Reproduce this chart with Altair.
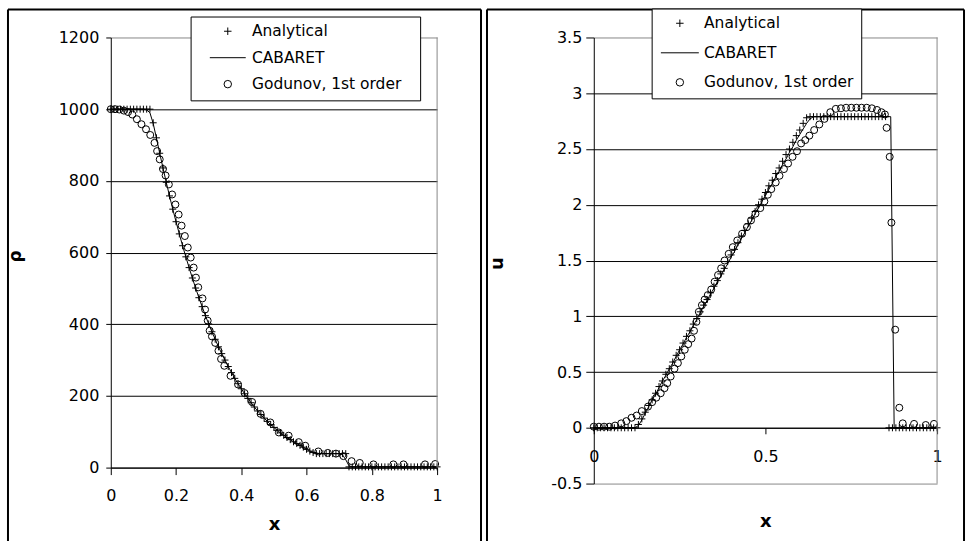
import altair as alt
import pandas as pd

# ---------------- shared sampling grid of the analytical / CABARET data ----------------
X_GRID = [0.00, 0.01, 0.02, 0.03, 0.04, 0.05, 0.06, 0.07, 0.08, 0.09,
          0.10, 0.11, 0.12, 0.13, 0.14, 0.15, 0.16, 0.17, 0.18, 0.19,
          0.20, 0.21, 0.22, 0.23, 0.24, 0.25, 0.26, 0.27, 0.28, 0.29,
          0.30, 0.31, 0.32, 0.33, 0.34, 0.35, 0.36, 0.37, 0.38, 0.39,
          0.40, 0.41, 0.42, 0.43, 0.44, 0.45, 0.46, 0.47, 0.48, 0.49,
          0.50, 0.51, 0.52, 0.53, 0.54, 0.55, 0.56, 0.57, 0.58, 0.59,
          0.60, 0.61, 0.62, 0.63, 0.64, 0.65, 0.66, 0.67, 0.68, 0.69,
          0.70, 0.71, 0.72, 0.73, 0.74, 0.75, 0.76, 0.77, 0.78, 0.79,
          0.80, 0.81, 0.82, 0.83, 0.84, 0.85, 0.86, 0.87, 0.88, 0.89,
          0.90, 0.91, 0.92, 0.93, 0.94, 0.95, 0.96, 0.97, 0.98, 0.99,
          1.00]

# ---------------- left panel: density rho ----------------
RHO_ANALYTICAL = [1000, 1000, 1000, 1000, 1000, 1000, 1000, 1000, 1000, 1000,
                  1000, 1000, 1000, 962, 920, 877, 836, 796, 758, 721,
                  686, 652, 619, 588, 558, 529, 501, 474, 449, 424,
                  401, 379, 358, 337, 318, 300, 282, 265, 249, 234,
                  220, 206, 193, 181, 169, 158, 148, 138, 129, 120,
                  112, 104, 97, 90, 84, 78, 72, 67, 62, 57,
                  51, 46, 42, 39, 39, 39, 39, 39, 39, 39,
                  39, 39, 39, 2, 2, 2, 2, 2, 2, 2,
                  2, 2, 2, 2, 2, 2, 2, 2, 2, 2,
                  2, 2, 2, 2, 2, 2, 2, 2, 2, 2,
                  2]
RHO_CABARET = [1000, 1000, 1000, 1000, 1000, 1000, 1000, 1000, 1000, 1000,
               1000, 998, 990, 960, 919, 877, 836, 796, 758, 721,
               686, 652, 619, 588, 558, 529, 501, 474, 449, 424,
               401, 379, 358, 337, 318, 300, 282, 265, 249, 234,
               220, 206, 193, 181, 169, 158, 148, 138, 129, 120,
               112, 104, 97, 90, 84, 78, 72, 67, 62, 57,
               51, 46, 43, 41, 39, 39, 39, 39, 39, 39,
               39, 36, 22, 5, 2, 2, 2, 2, 2, 2,
               2, 2, 2, 2, 2, 2, 2, 2, 2, 2,
               2, 2, 2, 2, 2, 2, 2, 2, 2, 2,
               2]
GOD_RHO_X = [0.000, 0.013, 0.026, 0.040, 0.053, 0.066, 0.080, 0.094, 0.108, 0.121,
             0.134, 0.142, 0.150, 0.160, 0.168, 0.178, 0.188, 0.198, 0.208, 0.217,
             0.227, 0.236, 0.245, 0.254, 0.261, 0.268, 0.281, 0.289, 0.297, 0.303,
             0.310, 0.320, 0.330, 0.338, 0.348, 0.367, 0.390, 0.410, 0.433, 0.459,
             0.489, 0.515, 0.545, 0.576, 0.596, 0.636, 0.665, 0.690, 0.713, 0.738,
             0.763, 0.805, 0.866, 0.897, 0.963, 0.994]
GOD_RHO = [1000, 1000, 999, 996, 992, 985, 972, 958, 944, 928,
           906, 883, 860, 833, 815, 790, 762, 734, 706, 675,
           646, 614, 586, 558, 530, 503, 472, 441, 410, 382,
           366, 348, 326, 303, 284, 256, 232, 208, 183, 150,
           126, 98, 89, 71, 61, 45, 41, 39, 32, 18,
           13, 9, 9, 9, 9, 10]
RHO_TICKS = [0, 200, 400, 600, 800, 1000, 1200]
RHO_X_TICKS = [0, 0.2, 0.4, 0.6, 0.8, 1]

# ---------------- right panel: velocity u ----------------
U_ANALYTICAL = [0, 0, 0, 0, 0, 0, 0, 0, 0, 0,
                0, 0, 0, 0.03, 0.08, 0.14, 0.20, 0.25, 0.31, 0.37,
                0.42, 0.48, 0.53, 0.59, 0.65, 0.70, 0.76, 0.82, 0.87, 0.93,
                0.98, 1.04, 1.10, 1.15, 1.21, 1.27, 1.32, 1.38, 1.43, 1.49,
                1.55, 1.60, 1.66, 1.72, 1.77, 1.83, 1.88, 1.94, 2.00, 2.05,
                2.11, 2.17, 2.22, 2.28, 2.33, 2.39, 2.45, 2.50, 2.56, 2.62,
                2.67, 2.73, 2.78, 2.79, 2.79, 2.79, 2.79, 2.79, 2.79, 2.79,
                2.79, 2.79, 2.79, 2.79, 2.79, 2.79, 2.79, 2.79, 2.79, 2.79,
                2.79, 2.79, 2.79, 2.79, 2.79, 2.79, 0, 0, 0, 0,
                0, 0, 0, 0, 0, 0, 0, 0, 0, 0,
                0]
U_CABARET_X = X_GRID[:87] + [0.865, 0.875] + X_GRID[88:]
U_CABARET = [0, 0, 0, 0, 0, 0, 0, 0, 0, 0,
             0, 0, 0, 0.02, 0.07, 0.13, 0.19, 0.25, 0.30, 0.36,
             0.42, 0.47, 0.53, 0.58, 0.64, 0.70, 0.75, 0.81, 0.86, 0.92,
             0.97, 1.03, 1.09, 1.14, 1.20, 1.25, 1.31, 1.36, 1.42, 1.47,
             1.53, 1.58, 1.64, 1.70, 1.75, 1.81, 1.86, 1.92, 1.97, 2.03,
             2.08, 2.14, 2.19, 2.25, 2.30, 2.36, 2.41, 2.47, 2.52, 2.58,
             2.63, 2.68, 2.73, 2.77, 2.79, 2.79, 2.79, 2.79, 2.79, 2.79,
             2.79, 2.79, 2.79, 2.79, 2.79, 2.79, 2.79, 2.79, 2.79, 2.79,
             2.79, 2.79, 2.79, 2.79, 2.79, 2.79, 2.79,
             2.79, 0,
             0, 0, 0, 0, 0, 0, 0, 0, 0, 0, 0, 0, 0]
GOD_U_X = [0.000, 0.015, 0.030, 0.045, 0.062, 0.080, 0.095, 0.110, 0.125, 0.140,
           0.158, 0.170, 0.182, 0.195, 0.206, 0.214, 0.224, 0.235, 0.245, 0.255,
           0.265, 0.275, 0.285, 0.292, 0.299, 0.306, 0.315, 0.323, 0.332, 0.342,
           0.352, 0.362, 0.371, 0.381, 0.393, 0.405, 0.418, 0.432, 0.446, 0.458,
           0.471, 0.485, 0.497, 0.507, 0.517, 0.530, 0.541, 0.554, 0.566, 0.579,
           0.592, 0.604, 0.616, 0.628, 0.642, 0.657, 0.672, 0.689, 0.705, 0.720,
           0.735, 0.750, 0.765, 0.780, 0.795, 0.810, 0.825, 0.838, 0.848, 0.853,
           0.862, 0.867, 0.878, 0.890, 0.900, 0.933, 0.967, 0.991]
GOD_U = [0.01, 0.01, 0.01, 0.01, 0.02, 0.04, 0.06, 0.09, 0.11, 0.15,
         0.19, 0.23, 0.27, 0.31, 0.355, 0.40, 0.46, 0.53, 0.58, 0.64,
         0.70, 0.75, 0.80, 0.87, 0.95, 1.04, 1.10, 1.15, 1.19, 1.24,
         1.31, 1.37, 1.43, 1.50, 1.56, 1.62, 1.68, 1.74, 1.80, 1.86,
         1.92, 1.97, 2.03, 2.09, 2.14, 2.20, 2.26, 2.32, 2.37, 2.43,
         2.48, 2.55, 2.58, 2.62, 2.67, 2.72, 2.77, 2.83, 2.86, 2.865,
         2.87, 2.87, 2.87, 2.87, 2.87, 2.865, 2.85, 2.83, 2.81, 2.69,
         2.43, 1.84, 0.88, 0.18, 0.04, 0.035, 0.025, 0.035]
U_TICKS = [-0.5, 0, 0.5, 1, 1.5, 2, 2.5, 3, 3.5]
U_X_TICKS = [0, 0.5, 1]

SERIES = ["Analytical", "CABARET", "Godunov, 1st order"]

# ---------------- styling ----------------
FONT = "DejaVu Sans"
GRAY = "#888888"
PLUS = "M-1,0H1M0,-1V1"
W1, H1 = 327, 431
W2, H2 = 344, 447
DUMMY = pd.DataFrame({"k": [0]})


def long_df(xa, ya, xc, yc, xg, yg):
    parts = []
    for name, xs, ys in ((SERIES[0], xa, ya), (SERIES[1], xc, yc), (SERIES[2], xg, yg)):
        parts.append(pd.DataFrame({"x": xs, "v": ys, "series": name}))
    return pd.concat(parts, ignore_index=True)


def deco_rule(color, width, **enc):
    return alt.Chart(DUMMY).mark_rule(color=color, strokeWidth=width).encode(
        **{k: alt.value(v) for k, v in enc.items()})


def grid_color(gray_values):
    test = " || ".join(f"datum.value === {v}" for v in gray_values)
    return {"condition": {"test": test, "value": GRAY}, "value": "black"}


def panel(df, W, H, ydom, x_axis, y_axis, legend, line_half, frame, extra_layers=()):
    shape_scale = alt.Scale(domain=SERIES,
                            range=[PLUS, f"M-{line_half},0H{line_half}", "circle"])
    base = alt.Chart(df).encode(
        x=alt.X("x:Q", scale=alt.Scale(domain=[0, 1], nice=False, zero=False), axis=x_axis),
        y=alt.Y("v:Q", scale=alt.Scale(domain=ydom, nice=False, zero=False), axis=y_axis),
    )
    line = base.transform_filter(alt.datum.series == SERIES[1]).mark_line(
        color="black", strokeWidth=1)
    pts = base.transform_filter(alt.datum.series != SERIES[1]).mark_point(
        filled=False, color="black", strokeWidth=1, size=49, opacity=1
    ).encode(shape=alt.Shape("series:N", scale=shape_scale, legend=legend))
    fl, fr, ft, fb = frame
    layers = list(extra_layers) + [
        line, pts,
        deco_rule(GRAY, 1, x=W, y=0, y2=H),
        deco_rule("black", 2, x=fl, x2=fr, y=ft),
        deco_rule("black", 2, x=fl, y=ft, y2=fb),
        deco_rule("black", 2, x=fr, y=ft, y2=fb),
    ]
    return alt.layer(*layers).properties(width=W, height=H)


common_legend = dict(
    title=None, direction="vertical", orient="none",
    symbolSize=56, symbolStrokeWidth=1, symbolStrokeColor="black",
    symbolFillColor="transparent", labelFont=FONT, labelFontSize=15.5,
    labelColor="black", labelLimit=400, fillColor="white", strokeColor="black",
)

# ---- left panel ----
left_df = long_df(X_GRID, RHO_ANALYTICAL, X_GRID, RHO_CABARET, GOD_RHO_X, GOD_RHO)
left_x_axis = alt.Axis(
    values=RHO_X_TICKS, labelExpr="'' + datum.value", labelFlush=False,
    tickSize=7, tickColor="black", domainColor="black", labelFont=FONT,
    labelFontSize=16, labelColor="black", labelPadding=13, grid=False,
    title="x", titleFont=FONT, titleFontSize=18, titleFontWeight="bold",
    titleColor="black", titleY=57, titleBaseline="middle")
left_y_axis = alt.Axis(
    values=RHO_TICKS, labelExpr="'' + datum.value", tickSize=5,
    tickColor="black", domainColor="black", labelFont=FONT, labelFontSize=16,
    labelColor="black", labelPadding=7, grid=True, gridColor=grid_color([1200]),
    gridOpacity=1, gridWidth=1, title="ρ", titleFont=FONT, titleFontSize=17,
    titleFontWeight="bold", titleColor="black", titleAngle=270, titleX=-95,
    titleY=219, titleBaseline="middle", titleAlign="center")
left_legend = alt.Legend(legendX=80, legendY=-21, padding=7, rowPadding=9.5,
                         symbolOffset=22.5, labelOffset=16.5,
                         labelExpr="datum.label + '\u2800'", **common_legend)
bbox = alt.Chart(DUMMY).mark_rect(opacity=0).encode(
    x=alt.value(-110), x2=alt.value(860), y=alt.value(-36), y2=alt.value(505))
left = panel(left_df, W1, H1, [0, 1200], left_x_axis, left_y_axis, left_legend,
             4.81, (-103, 371, -28, 505), extra_layers=[bbox])

# ---- right panel ----
right_df = long_df(X_GRID, U_ANALYTICAL, U_CABARET_X, U_CABARET, GOD_U_X, GOD_U)
right_x_axis = alt.Axis(
    values=U_X_TICKS, labelExpr="'' + datum.value", labelFlush=False,
    offset=-H2 * 0.5 / 4.0, tickSize=6, tickColor="black", domainColor="black",
    labelFont=FONT, labelFontSize=16, labelColor="black", labelPadding=15,
    grid=False, title="x", titleFont=FONT, titleFontSize=18,
    titleFontWeight="bold", titleColor="black", titleY=94, titleBaseline="middle")
right_y_axis = alt.Axis(
    values=U_TICKS, labelExpr="'' + datum.value", tickSize=8, tickColor="black",
    domainColor="black", labelFont=FONT, labelFontSize=16, labelColor="black",
    labelPadding=4, grid=True, gridColor=grid_color([-0.5, 3.5]), gridOpacity=1,
    gridWidth=1, title="u", titleFont=FONT, titleFontSize=18,
    titleFontWeight="bold", titleColor="black", titleAngle=270, titleX=-96,
    titleY=226, titleBaseline="middle", titleAlign="center")
right_legend = alt.Legend(legendX=58, legendY=-29, padding=7, rowPadding=12.6,
                          symbolOffset=13.5, labelOffset=16.5, **common_legend)
right = panel(right_df, W2, H2, [-0.5, 3.5], right_x_axis, right_y_axis,
              right_legend, 5.08, (-107, 371, -28, 505))

chart = (
    alt.hconcat(left, right, spacing=157, bounds="flush")
    .resolve_scale(shape="independent", x="independent", y="independent")
    .resolve_legend(shape="independent")
    .properties(padding=0, background="white")
    .configure_view(stroke="transparent")
)

chart.save("out.html", embed_options={"renderer": "svg", "actions": False})
